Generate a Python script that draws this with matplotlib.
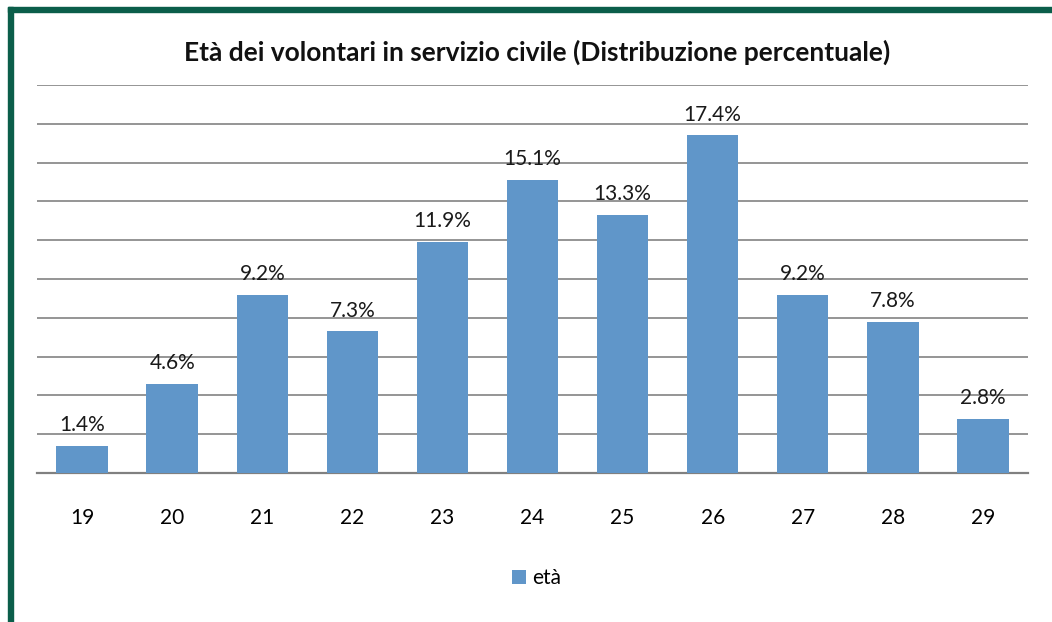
import matplotlib
matplotlib.use("Agg")
import matplotlib.pyplot as plt
from matplotlib.patches import Rectangle

ages = ["19", "20", "21", "22", "23", "24", "25", "26", "27", "28", "29"]
percent = [1.4, 4.6, 9.2, 7.3, 11.9, 15.1, 13.3, 17.4, 9.2, 7.8, 2.8]
series_name = "età"
title = "Età dei volontari in servizio civile (Distribuzione percentuale)"

plt.rcParams["font.family"] = ["Lato", "DejaVu Sans"]

bar_color = "#6096C9"
grid_color = "#8C8C8C"
frame_green = "#0B5E4A"

fig = plt.figure(figsize=(10.52, 6.22), dpi=100)
ax = fig.add_axes([0.0352, 0.2395, 0.942, 0.6238])

x = range(len(ages))
bars = ax.bar(x, percent, width=0.57, color=bar_color, zorder=3, label=series_name)

ax.set_xlim(-0.5, len(ages) - 0.5)
ax.set_ylim(0, 20)
ax.set_yticks(range(0, 21, 2))
ax.yaxis.grid(True, color=grid_color, linewidth=1.3, zorder=0)
ax.tick_params(axis="y", left=False, labelleft=False)
ax.tick_params(axis="x", bottom=False, labelsize=15, pad=22)
ax.set_xticks(list(x))
ax.set_xticklabels(ages)
for side in ["top", "right", "left"]:
    ax.spines[side].set_visible(False)
ax.spines["bottom"].set_color("#808080")
ax.spines["bottom"].set_linewidth(1.6)

for b, v in zip(bars, percent):
    ax.text(b.get_x() + b.get_width() / 2, v + 0.55, f"{v:.1f}%",
            ha="center", va="bottom", fontsize=15, color="#1a1a1a", zorder=4)

fig.text(0.511, 0.916, title, ha="center", va="center",
         fontsize=19, fontweight="bold", color="#111111")

leg = fig.legend(handles=[bars], labels=[series_name], loc="center",
                 bbox_to_anchor=(0.51, 0.07), frameon=False, fontsize=15,
                 handlelength=0.7, handleheight=0.7, handletextpad=0.3)

# green frame on top and left, like the source sheet
fig.patches.append(Rectangle((8 / 1052, 0), 5 / 1052, 1 - 7 / 622,
                             transform=fig.transFigure, color=frame_green))
fig.patches.append(Rectangle((8 / 1052, 1 - 12 / 622), 1, 5 / 622,
                             transform=fig.transFigure, color=frame_green))

fig.savefig("out.png", dpi=100)
